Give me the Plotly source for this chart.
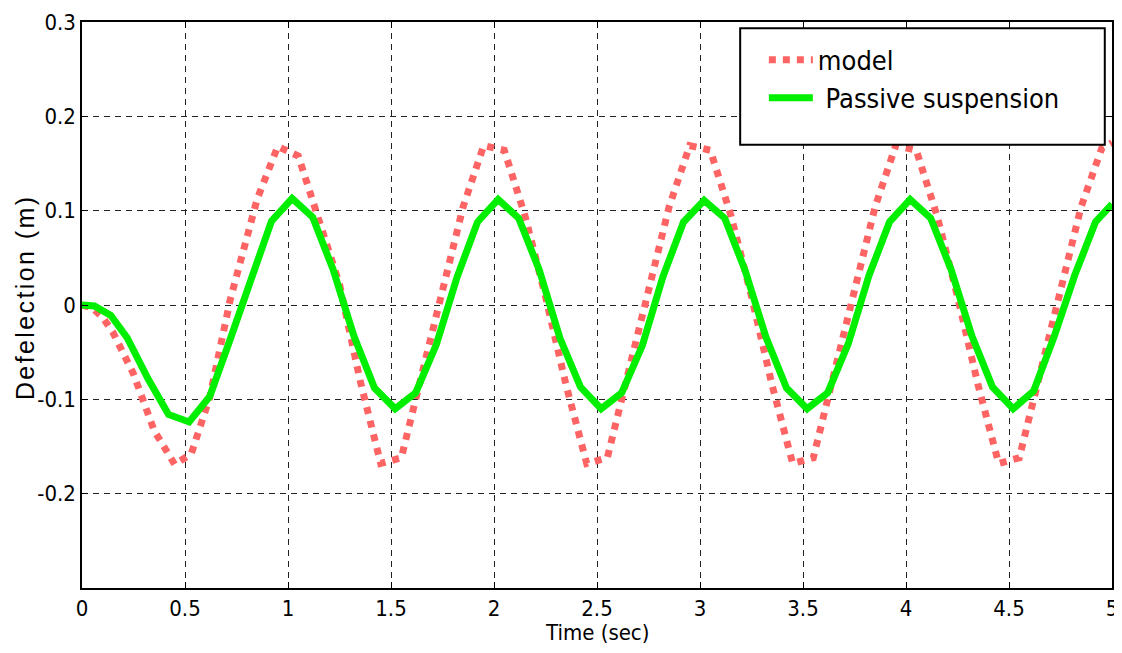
import plotly.graph_objects as go

# ---- data ----
t_passive = [0.00, 0.06, 0.14, 0.22, 0.32, 0.42, 0.52, 0.62, 0.72, 0.82, 0.92,
             1.02, 1.12, 1.22, 1.32, 1.42, 1.52, 1.62, 1.72, 1.82, 1.92,
             2.02, 2.12, 2.22, 2.32, 2.42, 2.52, 2.62, 2.72, 2.82, 2.92,
             3.02, 3.12, 3.22, 3.32, 3.42, 3.52, 3.62, 3.72, 3.82, 3.92,
             4.02, 4.12, 4.22, 4.32, 4.42, 4.52, 4.62, 4.72, 4.82, 4.92, 5.00]
y_passive = [0.000, -0.001, -0.011, -0.035, -0.078, -0.116, -0.124, -0.097, -0.036, 0.029, 0.089,
             0.113, 0.093, 0.037, -0.033, -0.088, -0.110, -0.093, -0.042, 0.029, 0.088,
             0.112, 0.092, 0.037, -0.035, -0.087, -0.110, -0.093, -0.043, 0.030, 0.088,
             0.111, 0.092, 0.036, -0.034, -0.088, -0.110, -0.093, -0.041, 0.031, 0.088,
             0.112, 0.092, 0.037, -0.033, -0.087, -0.110, -0.091, -0.033, 0.032, 0.088, 0.107]

t_model = [0.00, 0.05, 0.10, 0.15, 0.25, 0.35, 0.45, 0.53, 0.62, 0.72, 0.85, 0.95,
           1.05, 1.15, 1.25, 1.35, 1.45, 1.55, 1.65, 1.75, 1.85, 1.95,
           2.05, 2.15, 2.25, 2.35, 2.45, 2.55, 2.65, 2.75, 2.85, 2.95,
           3.05, 3.15, 3.25, 3.35, 3.45, 3.55, 3.65, 3.75, 3.85, 3.95,
           4.05, 4.15, 4.25, 4.35, 4.45, 4.55, 4.65, 4.75, 4.85, 4.95, 5.00]
y_model = [0.000, -0.003, -0.013, -0.029, -0.073, -0.133, -0.169, -0.158, -0.098, 0.006, 0.112, 0.168,
           0.158, 0.090, 0.022, -0.080, -0.168, -0.162, -0.073, 0.012, 0.104, 0.169,
           0.164, 0.095, 0.009, -0.085, -0.168, -0.162, -0.075, 0.012, 0.104, 0.169,
           0.164, 0.095, 0.009, -0.085, -0.168, -0.162, -0.075, 0.012, 0.104, 0.169,
           0.164, 0.095, 0.009, -0.085, -0.168, -0.162, -0.075, 0.012, 0.104, 0.166, 0.172]

x_ticks = [0, 0.5, 1, 1.5, 2, 2.5, 3, 3.5, 4, 4.5, 5]
x_tick_text = ["0", "0.5", "1", "1.5", "2", "2.5", "3", "3.5", "4", "4.5", "5"]
y_ticks = [-0.2, -0.1, 0, 0.1, 0.2, 0.3]
y_tick_text = ["-0.2", "-0.1", "0", "0.1", "0.2", "0.3"]

NARROW = "Liberation Sans Narrow, Arial Narrow, DejaVu Sans Condensed, Liberation Sans, sans-serif"

fig = go.Figure()
fig.add_trace(go.Scatter(x=t_model, y=y_model, mode="lines", name="model",
                         line=dict(color="#ff6464", width=7, dash="dot")))
fig.add_trace(go.Scatter(x=t_passive, y=y_passive, mode="lines", name=" Passive suspension",
                         line=dict(color="#00ee00", width=7)))

axis_common = dict(showline=True, linecolor="black", linewidth=1.5, mirror="allticks",
                   ticks="inside", ticklen=6, tickcolor="black",
                   showgrid=True, gridcolor="#222222", gridwidth=1, griddash="6px,5px",
                   zeroline=False, automargin=False,
                   tickfont=dict(family=NARROW, size=22, color="black"))

fig.update_xaxes(range=[0, 5], tickvals=x_ticks, ticktext=x_tick_text, ticklabelstandoff=0,
                 **axis_common)
fig.update_yaxes(range=[-0.3, 0.3], tickvals=y_ticks, ticktext=y_tick_text, **axis_common)

fig.add_shape(type="rect", xref="paper", yref="paper", x0=0.639, x1=0.993, y0=0.783, y1=0.989,
              fillcolor="white", line=dict(color="black", width=2), layer="above")

fig.add_annotation(text="Time (sec)", xref="paper", yref="paper", x=0.5, y=-0.0795,
                   xanchor="center", yanchor="middle", showarrow=False,
                   font=dict(family=NARROW, size=22, color="black"))
fig.add_annotation(text='<span style="letter-spacing:2.4px">Defelection (m)</span>',
                   xref="paper", yref="paper", x=-0.0553, y=0.514,
                   xanchor="center", yanchor="middle", showarrow=False, textangle=-90,
                   font=dict(family="Liberation Sans, Arial, sans-serif", size=25, color="black"))

# the page body has an 8px margin, so the figure is sized/offset to land the plot area
# at the reference pixel positions
fig.update_layout(
    width=1114, height=645,
    margin=dict(l=74, r=10, t=14, b=65, autoexpand=False),
    plot_bgcolor="white", paper_bgcolor="white",
    showlegend=True,
    legend=dict(x=0.662, y=0.976, xanchor="left", yanchor="top",
                bgcolor="rgba(0,0,0,0)", borderwidth=0,
                font=dict(family=NARROW, size=27, color="black"),
                itemwidth=44, tracegroupgap=0),
)

fig.write_html("out.html")
